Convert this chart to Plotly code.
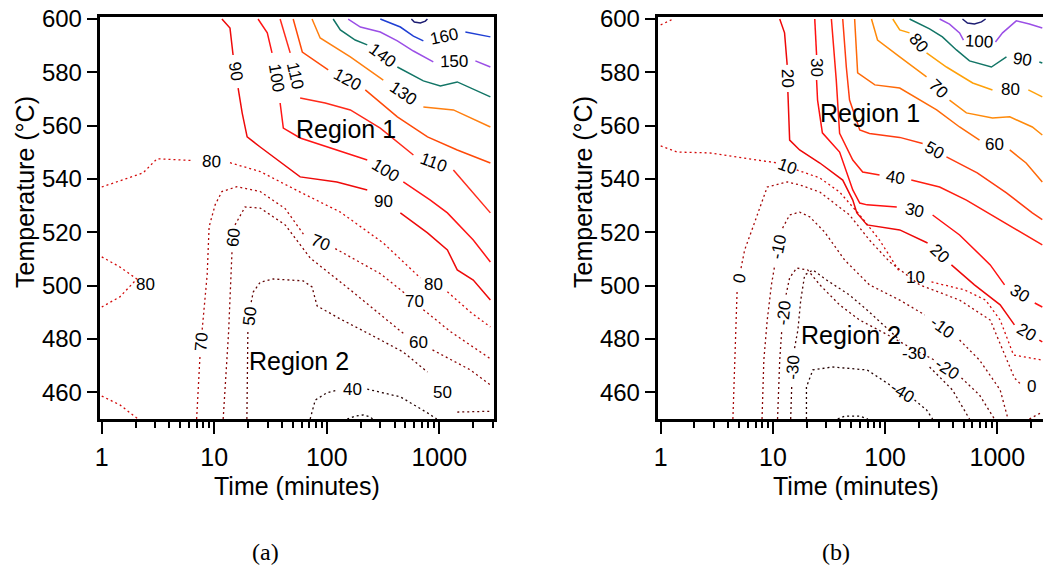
import math
import plotly.graph_objects as go

W, H = 1043, 581

# ---------------- panel (a): contour lines as (time [min], temperature [degC]) ----------------
# a None splits a line where its value label is written
A_170 = [(565, 600), (600, 598.9), (679, 598.5), (752, 599.2), (785, 600)]
A_160 = [(299, 600), (451, 597), (589, 593.6), (722, 591.8), None, (1706, 595.1), (2847, 593.3)]
A_150 = [(155, 600), (199, 597), (299, 595.1), (424, 591.8), (589, 588), (885, 583.9), None,
         (2094, 584.3), (2847, 582)]
A_140 = [(114, 600), (132, 595.9), (179, 592.1), (229, 590.3), None, (424, 582), (722, 576.8),
         (1023, 574.9), (1445, 576.4), (2847, 570.8)]
A_130 = [(74, 600), (87.4, 592.9), (162, 585.8), (318, 577.1), None, (722, 567), (1335, 565.9),
         (2847, 559.5)]
A_120 = [(50.3, 600), (60.6, 587.6), (103, 580.9), None, (220, 573.4), (424, 563.3), (786, 555.8),
         (1445, 550.9), (2847, 546)]
A_110 = [(38.5, 600), (47.3, 587.3), None, (58, 570.4), (96.8, 568.5), (162, 565.9), (299, 559.1),
         (589, 549), None, (1335, 543.4), (2847, 527.3)]
A_100 = [(24.5, 600), (29.6, 594.8), (32.6, 587.3), None, (38.5, 568.5), (41.1, 559.1), (58, 555.4),
         (229, 547.1), None, (479, 538.9), (833, 532.1), (1181, 527.3), (2005, 517.1), (2847, 508.9)]
A_90 = [(11.7, 600), (13.8, 596.6), (14.7, 586.5), None, (16.3, 574.1), (17.7, 564.8), (19.6, 555.8),
        (25.6, 552), (58, 540.8), (123, 538.9), (229, 535.9), None, (451, 527.3), (786, 519.8),
        (1181, 513.4), (1445, 505.9), (2005, 502.1), (2847, 494.6)]
A_80 = [(1, 537), (1.45, 539.3), (2.33, 542.3), (3.1, 547.6), (6.5, 546.9), None, (13.8, 546.1),
        (25.6, 542.8), (58, 535.1), (132, 527.6), (318, 516), (679, 502.9), None, (1181, 497.7),
        (1890, 490.1), (2847, 484.5)]
A_80_LOOP = [(1, 510.8), (1.45, 507), (2.05, 502.5), (1.45, 495.8), (1, 492)]
A_80_CORNER = [(1, 458.6), (1.45, 455.3), (2.1, 450)]
A_70 = [(6.97, 450), (7.2, 461), (7.48, 474.1), None, (7.81, 483.5), (8.65, 504.1), (9.0, 522.1),
        (10.2, 530.4), (11.7, 535.3), (15.9, 537.1), (25.6, 535.3), (42.7, 528.9), (64.3, 518.4), None,
        (119, 513.9), (299, 504.5), (499, 497), None, (722, 491), (1255, 482.8), (2847, 472.6)]
A_60 = [(12.0, 450), (12.5, 460.9), (13.4, 482.3), (14.4, 513.4), None, (15.3, 522.8), (18.8, 529.5),
        (25.6, 529.1), (42.7, 522.8), (71.2, 510.4), (162, 498.4), (499, 481.5), None, (871, 475.9),
        (1890, 468.4), (2847, 462.8)]
A_50 = [(19.5, 450), (19.9, 483.4), None, (21.3, 493.8), (22.2, 497.6), (25.6, 501.3), (33.5, 502.5),
        (61.7, 501.8), (74, 499.5), (82, 492.4), (132, 487.5), (259, 481.1), (479, 475.1), (786, 467.6),
        None, (1445, 452.6), (2847, 452.9)]
A_40 = [(71.2, 450), (79, 457.1), (100, 459.8), (125, 460.9), None, (229, 461.2), (451, 458.3),
        (786, 452.3), (950, 450)]
A_30 = [(152, 450), (179, 451.1), (211, 451.5), (244, 450.8), (255, 450)]

A_LINES = [(170, A_170), (160, A_160), (150, A_150), (140, A_140), (130, A_130), (120, A_120),
           (110, A_110), (100, A_100), (90, A_90), (80, A_80), (80, A_80_LOOP), (80, A_80_CORNER),
           (70, A_70), (60, A_60), (50, A_50), (40, A_40), (30, A_30)]
# value written beside the closed loop at the left edge
A_LOOSE_LABELS = [(80, 2.45, 500.3)]

# ---------------- panel (b) ----------------
B_110 = [(489, 600), (542, 598.5), (625, 598.1), (722, 598.9), (786, 600)]
B_100 = [(306, 600), (375, 598.1), (461, 594.8), (499, 592.1), None, (962, 591.4), (1113, 594.8),
         (1475, 599.3), (1930, 598.1), (2516, 596.6)]
B_90 = [(165, 600), (249, 596.3), (324, 593.3), (432, 588.4), (565, 584.3), (885, 582), (1206, 585.8),
        None, (2367, 583.9), (2516, 583.5)]
B_80 = [(117, 600), (135, 595.9), (165, 594.8), None, (234, 587.3), (352, 582), (603, 576), (905, 573.4),
        None, (1890, 573.4), (2516, 570.8)]
B_70 = [(75.6, 600), (85.6, 592.1), (135, 585.8), (234, 578.3), None, (375, 569.6), (530, 564.8),
        (905, 562.9), (1290, 563.3), (2050, 559.5), (2516, 556.5)]
B_60 = [(53.5, 600), (56.9, 579.8), (81, 575.3), (135, 574.1), (288, 565.9), (461, 559.5), (694, 554.6),
        None, (1290, 550.9), (1805, 546), (2516, 538.9)]
B_50 = [(41.9, 600), (45.1, 582), (48.2, 569.6), (59.4, 558.4), (72.5, 557.1), (135, 555.6), (216, 553.3),
        None, (352, 548.3), (662, 542.3), (1206, 534.8), (2050, 527.3), (2516, 524.8)]
B_40 = [(33.2, 600), (36.7, 577.1), (39.3, 557.1), (51.5, 547.1), (63.1, 542.6), (89.2, 541.5), None,
        (171, 539.6), (306, 537), (530, 532.1), (833, 527.3), (1395, 521.6), (2516, 515.3)]
B_30 = [(23.6, 600), (24.5, 586.5), None, (24.5, 577.1), (25.0, 569.6), (27.6, 557.3), (39.3, 550.1),
        (51.5, 535.9), (59.4, 531), (69.0, 530.3), (127, 529.5), None, (265, 526.5), (461, 519),
        (865, 507.8), (1160, 500.3), None, (2155, 493.5), (2516, 492)]
B_20 = [(11.5, 600), (12.7, 594.8), (13.4, 582.8), None, (13.6, 572.6), (14.1, 554.6), (17.3, 550.9),
        (26.2, 546), (41.9, 539.6), (51.5, 532.1), (56.0, 527.3), (69.0, 522.8), (135, 520.9),
        (239, 516), None, (390, 507.8), (625, 500.3), (1060, 492.8), (1420, 485.3), None,
        (2367, 479.6), (2516, 478.9)]
B_10 = [(1, 552.4), (1.4, 550.1), (2.7, 549.8), (7.7, 547.1), (11.0, 546), None, (16.3, 543.4),
        (26.2, 540.4), (39.3, 535.1), (59.4, 526.5), (89.2, 517.1), (135, 505.1), None, (259, 501.4),
        (511, 498.4), (786, 494.6), (1060, 487.1), (1395, 474), (2516, 472.1)]
B_10_CORNER = [(1, 597.8), (1.29, 600)]
B_0 = [(4.4, 450), (4.6, 479.6), (4.8, 498.4), None, (5.2, 506.6), (5.6, 513.4), (6.5, 520.9),
       (7.7, 529.5), (8.9, 537), (13.4, 538.9), (17.3, 537.8), (26.2, 535.1), (48.2, 526.5),
       (72.5, 517.1), (110, 508.9), (203, 500.3), (461, 494.6), (865, 487.1), (1160, 474),
       (1420, 465.4), (1640, 462.8), None, (2516, 461.3)]
B_M10 = [(8.0, 450), (8.3, 472.1), (8.9, 487.1), (9.7, 500.3), (10.4, 507.8), None, (12.2, 521.6),
         (14.1, 526.5), (17.3, 527.6), (21.3, 525.8), (28.9, 520.1), (43.6, 509.6), (72.5, 500.3),
         (135, 494.6), (226, 489), None, (461, 479.6), (694, 472.1), (1060, 460.9), (1244, 450)]
B_M10_CORNER = [(1930, 450), (2516, 452.6)]
B_M20 = [(11.0, 450), (11.5, 472.1), (12.0, 483.4), None, (13.1, 496.6), (14.1, 503), (16.3, 506.6),
         (20.4, 505.9), (26.2, 500.3), (39.3, 492.8), (59.4, 487.1), (98.7, 482.2), (183, 475.9),
         (275, 472.1), None, (479, 465.4), (694, 459), (943, 450)]
B_M30 = [(14.4, 450), (14.7, 462), None, (15.6, 476.6), (16.7, 483.4), (17.7, 494.6), (19.2, 504),
         (22.7, 505.9), (30.1, 502.1), (48.2, 496.5), (69.0, 490.9), (135, 479.6), None, (249, 469.5),
         (398, 460.9), (565, 450)]
B_M40 = [(19.9, 450), (19.9, 462), (22.7, 468.4), (33.9, 469.5), (69.0, 468.4), (110, 462.8), None,
         (183, 457.1), (234, 453.4), (265, 450)]
B_M50 = [(37.8, 450), (43.6, 451.1), (59.4, 451.1), (70.3, 450)]

B_LINES = [(110, B_110), (100, B_100), (90, B_90), (80, B_80), (70, B_70), (60, B_60), (50, B_50),
           (40, B_40), (30, B_30), (20, B_20), (10, B_10), (10, B_10_CORNER), (0, B_0), (-10, B_M10),
           (-10, B_M10_CORNER), (-20, B_M20), (-30, B_M30), (-40, B_M40), (-50, B_M50)]
B_LOOSE_LABELS = []

# ---------------- styling ----------------
A_COLORS = {170: "#1c1c72", 160: "#1f3fd4", 150: "#9b4fe6", 140: "#127566", 130: "#ff7f10",
            120: "#ff4a08", 110: "#ff2a1a", 100: "#ff1515", 90: "#ee0a0a", 80: "#d40a0a",
            70: "#b00808", 60: "#8a0606", 50: "#600404", 40: "#240202", 30: "#100000"}
B_COLORS = {110: "#1c1c72", 100: "#9b4fe6", 90: "#127566", 80: "#ffa10a", 70: "#ff8a0a",
            60: "#ff6a08", 50: "#ff3c10", 40: "#ff1e10", 30: "#ff1010", 20: "#ee0808",
            10: "#d40a0a", 0: "#a80808", -10: "#8a0606", -20: "#6a0404", -30: "#4a0202",
            -40: "#240202", -50: "#100000"}
# labels written level rather than along the line: (level, n-th label on that line)
A_UPRIGHT = {(90, 2), (80, 2), (70, 3), (60, 2), (50, 2), (40, 1)}
B_UPRIGHT = {(60, 1), (10, 2), (-30, 2), (0, 2)}

FONT = "Liberation Sans, Arial, sans-serif"
SERIF = "Liberation Serif, Times New Roman, serif"

# plot-area geometry in pixels
PANELS = {
    "a": dict(left=99.5, right=493.5, top=16.5, bottom=419, xr=[-0.02, 3.482], yr=[450, 600.94]),
    "b": dict(left=657.5, right=1043, top=16.5, bottom=419, xr=[-0.0285, 3.407], yr=[450, 600.94]),
}


def to_px(g, t, T):
    x = g["left"] + (math.log10(t) - g["xr"][0]) / (g["xr"][1] - g["xr"][0]) * (g["right"] - g["left"])
    y = g["top"] + (g["yr"][1] - T) / (g["yr"][1] - g["yr"][0]) * (g["bottom"] - g["top"])
    return x, y


fig = go.Figure()
annotations = []


def draw_panel(key, lines, colors, dotted_below, upright, loose, xa, ya):
    g = PANELS[key]
    for level, pts in lines:
        dotted = level <= dotted_below
        fig.add_trace(go.Scatter(
            x=[p[0] if p else None for p in pts],
            y=[p[1] if p else None for p in pts],
            mode="lines", connectgaps=False, hoverinfo="skip", showlegend=False,
            line=dict(color=colors[level], width=1.3 if dotted else 1.5,
                      dash="2px,3px" if dotted else "solid"),
            xaxis=xa, yaxis=ya))
        n = 0
        for i, p in enumerate(pts):
            if p is not None:
                continue
            n += 1
            a, b = pts[i - 1], pts[i + 1]
            (x1, y1), (x2, y2) = to_px(g, *a), to_px(g, *b)
            ang = math.degrees(math.atan2(y2 - y1, x2 - x1))
            if ang > 90:
                ang -= 180
            elif ang < -90:
                ang += 180
            if (level, n) in upright:
                ang = 0
            annotations.append(dict(
                x=(math.log10(a[0]) + math.log10(b[0])) / 2, y=(a[1] + b[1]) / 2,
                xref=xa, yref=ya, text=str(level), showarrow=False, textangle=ang,
                font=dict(family=FONT, size=17, color="black")))
    for level, t, T in loose:
        annotations.append(dict(x=math.log10(t), y=T, xref=xa, yref=ya, text=str(level),
                                showarrow=False, font=dict(family=FONT, size=17, color="black")))


draw_panel("a", A_LINES, A_COLORS, 80, A_UPRIGHT, A_LOOSE_LABELS, "x", "y")
draw_panel("b", B_LINES, B_COLORS, 10, B_UPRIGHT, B_LOOSE_LABELS, "x2", "y2")

MINOR = [m * 10 ** e for e in range(4) for m in range(2, 10) if m * 10 ** e <= 3000]


def xaxis_style(g):
    return dict(type="log", range=g["xr"], domain=[g["left"] / W, g["right"] / W],
                tickvals=[1, 10, 100, 1000], ticktext=["1", "10", "100", "1000"],
                ticks="outside", ticklen=12, tickwidth=2, tickcolor="black",
                minor=dict(tickvals=MINOR, ticks="outside", ticklen=6, tickwidth=1.5, tickcolor="black"),
                showline=True, linewidth=2.5, linecolor="black", mirror=True, automargin=False,
                showgrid=False, zeroline=False, ticklabelstandoff=2,
                tickfont=dict(family=FONT, size=25, color="black"))


def yaxis_style(g, mirror):
    return dict(range=g["yr"], domain=[(H - g["bottom"]) / H, (H - g["top"]) / H],
                tickvals=[460, 480, 500, 520, 540, 560, 580, 600],
                ticks="outside", ticklen=10, tickwidth=2, tickcolor="black",
                showline=True, linewidth=2.5, linecolor="black", mirror=mirror, automargin=False,
                showgrid=False, zeroline=False,
                tickfont=dict(family=FONT, size=24, color="black"))


ga, gb = PANELS["a"], PANELS["b"]
fig.update_layout(
    width=W, height=H, margin=dict(l=0, r=0, t=0, b=0, autoexpand=False),
    paper_bgcolor="white", plot_bgcolor="white", showlegend=False,
    xaxis=dict(anchor="y", **xaxis_style(ga)),
    yaxis=dict(anchor="x", **yaxis_style(ga, True)),
    xaxis2=dict(anchor="y2", **xaxis_style(gb)),
    yaxis2=dict(anchor="x2", **yaxis_style(gb, False)),
)

texts = [
    ("Time (minutes)", 297, 486, 0, 25, FONT),
    ("Time (minutes)", 856, 486, 0, 25, FONT),
    ("Temperature (\u00b0C)", 25, 192, -90, 25, FONT),
    ("Temperature (\u00b0C)", 583, 192, -90, 25, FONT),
    ("Region 1", 346, 129, 0, 25, FONT),
    ("Region 2", 299, 361, 0, 25, FONT),
    ("Region 1", 870, 113, 0, 25, FONT),
    ("Region 2", 851, 335, 0, 25, FONT),
    ("(a)", 265, 552, 0, 24, SERIF),
    ("(b)", 836, 552, 0, 24, SERIF),
]
for txt, px, py, ang, size, fam in texts:
    annotations.append(dict(x=px / W, y=1 - py / H, xref="paper", yref="paper", text=txt,
                            showarrow=False, textangle=ang, xanchor="center", yanchor="middle",
                            font=dict(family=fam, size=size, color="black")))

fig.update_layout(annotations=annotations)
fig.write_html("out.html")
